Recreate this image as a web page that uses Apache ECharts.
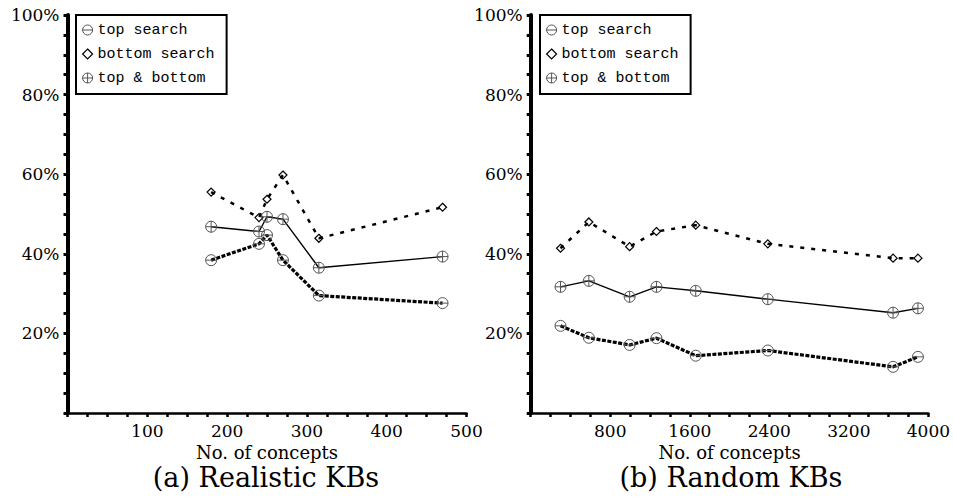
<!DOCTYPE html>
<html>
<head>
<meta charset="utf-8">
<script src="https://cdn.jsdelivr.net/npm/echarts@6/dist/echarts.min.js"></script>
<style>
html,body{margin:0;padding:0;background:#fff;}
#chart{width:953px;height:499px;}
</style>
</head>
<body>
<div id="chart"></div>
<script>
// ---- data ----
const seriesNames = ['top search', 'bottom search', 'top & bottom'];

const realisticX      = [180, 240, 250, 270, 315, 470];
const realisticTop    = [38.4, 42.5, 44.7, 38.4, 29.5, 27.6];
const realisticBottom = [55.5, 49.1, 53.7, 59.8, 43.9, 51.7];
const realisticBoth   = [46.8, 45.6, 49.3, 48.7, 36.5, 39.3];

const randomX      = [300, 585, 995, 1265, 1660, 2385, 3645, 3895];
const randomTop    = [21.9, 18.9, 17.1, 18.8, 14.4, 15.7, 11.6, 14.1];
const randomBottom = [41.4, 48.0, 41.8, 45.6, 47.2, 42.5, 38.9, 38.9];
const randomBoth   = [31.7, 33.2, 29.2, 31.7, 30.7, 28.6, 25.2, 26.3];

const xAxisTitle = 'No. of concepts';
const captions = ['(a) Realistic KBs', '(b) Random KBs'];

// ---- styling ----
const FONT = 'DejaVu Serif';
const SYM_MINUS = 'path://M1,6 A5,5 0 1,1 11,6 A5,5 0 1,1 1,6 Z M1,6 L11,6';
const SYM_PLUS  = 'path://M1,6 A5,5 0 1,1 11,6 A5,5 0 1,1 1,6 Z M1,6 L11,6 M6,1 L6,11';
const SYM_DIAM  = 'path://M5,0 L10,5 L5,10 L0,5 Z';

const pair = (xs, ys) => xs.map((x, i) => [x, ys[i]]);

function mkX(grid, max, interval, labelStep) {
  return {
    gridIndex: grid, type: 'value', min: 0, max: max, interval: interval,
    axisLine: { onZero: false, lineStyle: { color: '#000', width: 2.5 } },
    axisTick: { show: true, length: 4, lineStyle: { color: '#000', width: 2.5 } },
    axisLabel: {
      margin: 9, color: '#000', fontFamily: FONT, fontSize: 17,
      formatter: v => (v > 0 && v % labelStep === 0) ? String(v) : ''
    },
    splitLine: { show: false },
    name: xAxisTitle, nameLocation: 'middle', nameGap: 28,
    nameTextStyle: { color: '#000', fontFamily: FONT, fontSize: 18 }
  };
}
function mkY(grid) {
  return {
    gridIndex: grid, type: 'value', min: 0, max: 100, interval: 5,
    axisLine: { onZero: false, lineStyle: { color: '#000', width: 4 } },
    axisTick: { show: true, length: 4, lineStyle: { color: '#000', width: 3 } },
    axisLabel: {
      margin: 8, color: '#000', fontFamily: FONT, fontSize: 17,
      formatter: v => (v > 0 && v % 20 === 0) ? v + '%' : ''
    },
    splitLine: { show: false }
  };
}
const circleStyle = { color: 'rgba(255,255,255,0)', borderColor: '#555', borderWidth: 1 };
const diamStyle = { color: 'rgba(255,255,255,0)', borderColor: '#000', borderWidth: 1.2 };

function mkSeries(idx, xs, top, bottom, both) {
  return [
    { name: seriesNames[0], type: 'line', xAxisIndex: idx, yAxisIndex: idx,
      data: pair(xs, top), symbol: SYM_MINUS, symbolSize: 11, symbolKeepAspect: true,
      lineStyle: { color: '#000', width: 3.2, type: [4, 1.5] }, itemStyle: circleStyle, z: 3 },
    { name: seriesNames[1], type: 'line', xAxisIndex: idx, yAxisIndex: idx,
      data: pair(xs, bottom), symbol: SYM_DIAM, symbolSize: 8, symbolKeepAspect: true,
      lineStyle: { color: '#000', width: 2.5, type: [4, 7] }, itemStyle: diamStyle, z: 3 },
    { name: seriesNames[2], type: 'line', xAxisIndex: idx, yAxisIndex: idx,
      data: pair(xs, both), symbol: SYM_PLUS, symbolSize: 11, symbolKeepAspect: true,
      lineStyle: { color: '#000', width: 1.4 }, itemStyle: circleStyle, z: 3 }
  ];
}
function mkLegend(left) {
  return {
    left: left, top: 15, orient: 'vertical',
    backgroundColor: '#fff', borderColor: '#000', borderWidth: 2,
    padding: [7, 12, 8, 6], itemGap: 8, itemWidth: 10, itemHeight: 10,
    selectedMode: false,
    textStyle: { color: '#000', fontFamily: 'Liberation Mono', fontSize: 15, lineHeight: 16 },
    data: [
      { name: seriesNames[0], icon: SYM_MINUS, itemStyle: circleStyle },
      { name: seriesNames[1], icon: SYM_DIAM, itemStyle: diamStyle },
      { name: seriesNames[2], icon: SYM_PLUS, itemStyle: circleStyle }
    ]
  };
}

const chart = echarts.init(document.getElementById('chart'), null, { renderer: 'svg' });
chart.setOption({
  animation: false,
  backgroundColor: '#fff',
  grid: [
    { left: 67.5, top: 15, width: 399, height: 398 },
    { left: 530.7, top: 15, width: 400, height: 398 }
  ],
  xAxis: [mkX(0, 500, 25, 100), mkX(1, 4000, 200, 800)],
  yAxis: [mkY(0), mkY(1)],
  legend: [mkLegend(76), mkLegend(540)],
  series: [
    ...mkSeries(0, realisticX, realisticTop, realisticBottom, realisticBoth),
    ...mkSeries(1, randomX, randomTop, randomBottom, randomBoth)
  ],
  graphic: [
    { type: 'text', x: 266, y: 477, style: { text: captions[0], align: 'center', verticalAlign: 'middle', fontFamily: FONT, fontSize: 27, fill: '#000' } },
    { type: 'text', x: 731, y: 477, style: { text: captions[1], align: 'center', verticalAlign: 'middle', fontFamily: FONT, fontSize: 27, fill: '#000' } }
  ]
});
</script>
</body>
</html>
